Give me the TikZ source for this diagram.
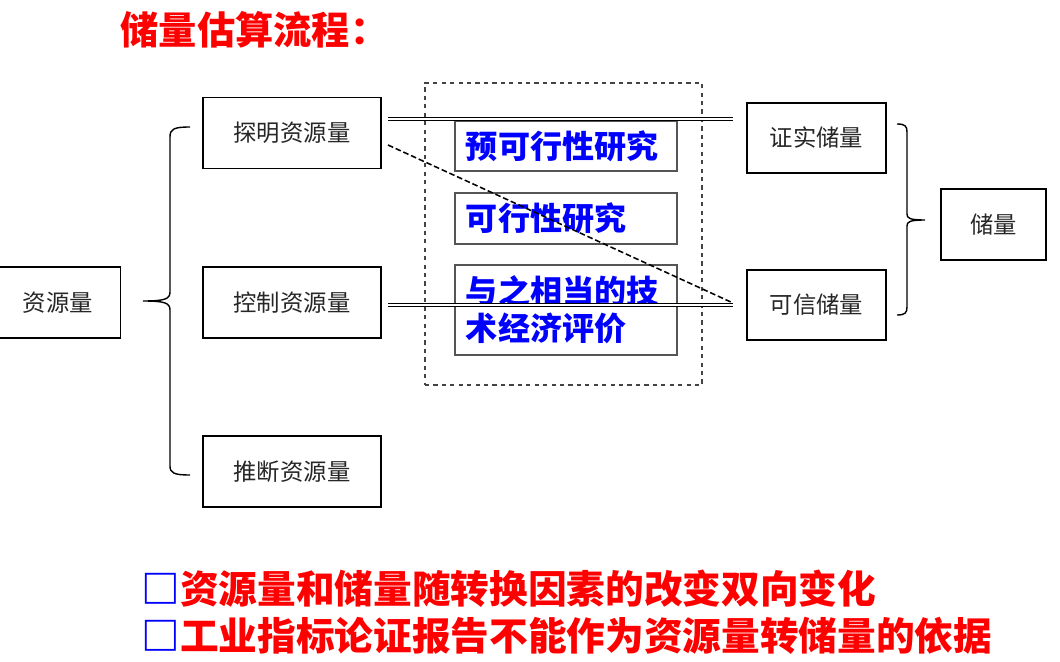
\documentclass[tikz,border=0pt]{standalone}
\usepackage{fontspec}
\newfontfamily\cjk{Noto Sans CJK SC}
\usetikzlibrary{positioning, calc}
\definecolor{hired}{HTML}{FF0000}
\definecolor{hiblue}{HTML}{0000FF}
\definecolor{boxgray}{HTML}{555555}
\definecolor{dashgray}{HTML}{444444}

\begin{document}
\begin{tikzpicture}[x=0.025cm, y=-0.025cm, line width=1.2pt,
  resbox/.style={draw, minimum width=4.45cm, minimum height=1.78cm, font=\cjk\fontsize{16.6}{19}\selectfont, text=black!85},
  resvbox/.style={draw, minimum width=3.475cm, minimum height=1.75cm, font=\cjk\fontsize{16.6}{19}\selectfont, text=black!85},
  studybox/.style={draw=boxgray, line width=0.9pt, text width=5.0cm, inner xsep=0.275cm, align=left,
    minimum width=5.55cm, font=\cjk\bfseries\fontsize{22.8}{26.3}\selectfont, text=hiblue},
  dbl/.style={double, double distance=1.6pt, line width=0.6pt},
  note/.style={font=\cjk\bfseries\fontsize{27.5}{32}\selectfont, text=hired, anchor=west}]

% Frame
\useasboundingbox (0,0) rectangle (1060,662);

% Title
\node[font=\cjk\bfseries\fontsize{27.2}{30}\selectfont, text=hired, anchor=west] (title) at (115,30) {储量估算流程：};

% ========== Resources ==========
\node[resbox, minimum width=3.125cm] (ziyuan) at (58,302.5) {资源量};
\node[resbox] (tanming) at (292,133) {探明资源量};
\node[resbox] (kongzhi) at (292,302.5) {控制资源量};
\node[resbox] (tuiduan) at (292,471.5) {推断资源量};

% Left brace
\draw[line width=1pt] (190,127) .. controls (174,127) and (170,129) .. (170,137) -- (170,292)
  .. controls (170,299) and (165,301) .. (143,301)
  .. controls (165,301) and (170,303) .. (170,310) -- (170,466)
  .. controls (170,473) and (174,475) .. (190,475);

% ========== Feasibility studies ==========
\node[draw=dashgray, dashed, line width=0.9pt, minimum width=6.925cm, minimum height=7.55cm] (pingjia) at (563.5,234) {};
\node[studybox, minimum height=1.25cm] (yuke) at (566,146) {预可行性研究};
\node[studybox, minimum height=1.275cm] (kexing) at (566,218.5) {可行性研究};
\node[studybox, minimum height=2.25cm] (jingji) at (566,310) {与之相当的技\\术经济评价};

% ========== Reserves ==========
\node[resvbox] (zhengshi) at (816.5,138) {证实储量};
\node[resvbox] (kexin) at (816.5,305) {可信储量};
\node[resvbox, minimum width=2.625cm, minimum height=1.775cm] (chuliang) at (993.5,224.5) {储量};

% Right brace
\draw[line width=1pt] (897,124) .. controls (905,124) and (907,126) .. (907,132) -- (907,214)
  .. controls (907,218) and (909,220) .. (925,220)
  .. controls (909,220) and (907,222) .. (907,226) -- (907,307)
  .. controls (907,313) and (905,315) .. (897,315);

% Conversion lines
\coordinate (tmout) at (388,119);
\coordinate (zsin) at (733,119);
\coordinate (kzout) at (388,305);
\coordinate (kxin) at (733,305);
\coordinate (tmdown) at (388,145);
\coordinate (kxup) at (733,303);
\draw[dbl] (tmout) -- (zsin);
\draw[dbl] (kzout) -- (kxin);
\draw[dash pattern=on 4pt off 2pt, line width=1.1pt] (tmdown) -- (kxup);

% Notes
\node[note] (note1) at (136,589) {\textcolor{hiblue}{□}资源量和储量随转换因素的改变双向变化};
\node[note] (note2) at (136,636) {\textcolor{hiblue}{□}工业指标论证报告不能作为资源量转储量的依据};

\end{tikzpicture}
\end{document}
